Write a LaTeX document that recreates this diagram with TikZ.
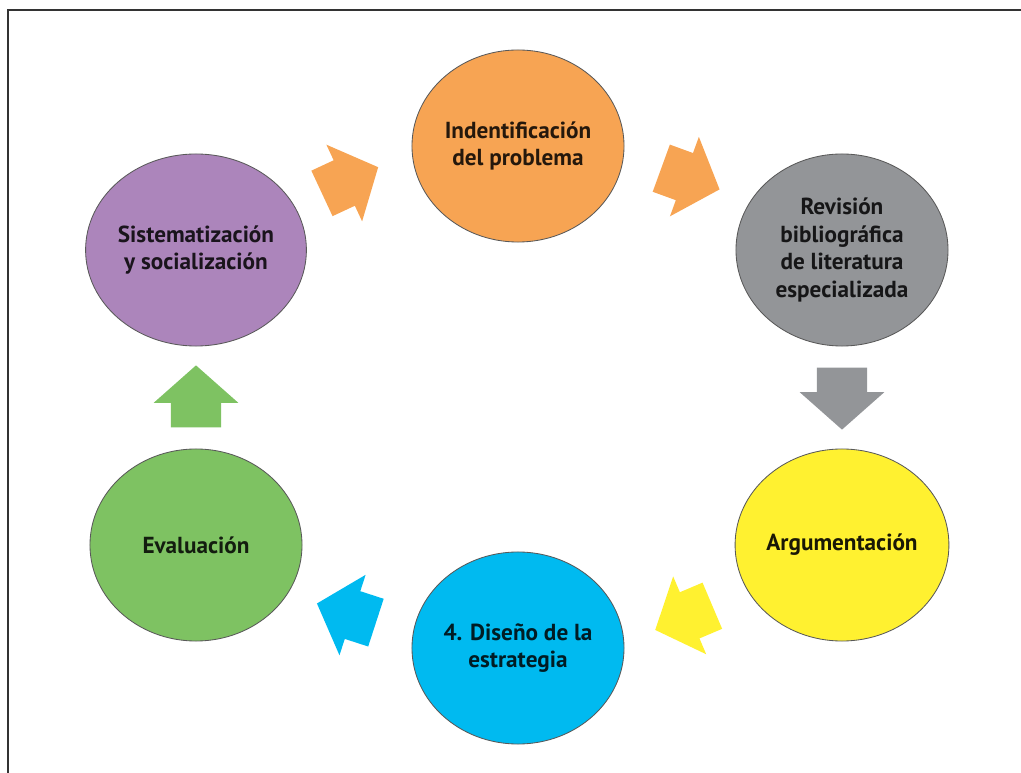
\documentclass[tikz,border=0pt]{standalone}
\usepackage{fontspec}
\setmainfont{PT Sans}
\usetikzlibrary{positioning, calc, shapes.geometric, shapes.arrows}
\definecolor{naranja}{RGB}{247, 164, 83}
\definecolor{gris}{RGB}{147, 149, 152}
\definecolor{amarillo}{RGB}{255, 241, 48}
\definecolor{celeste}{RGB}{0, 186, 240}
\definecolor{verde}{RGB}{126, 194, 98}
\definecolor{lila}{RGB}{172, 133, 187}
\tikzset{
  etapa/.style={ellipse, draw=black!65, line width=0.6pt, minimum width=5.3cm,
                minimum height=4.8cm, inner sep=0pt, align=center,
                font=\bfseries\fontsize{16.5}{19.5}\selectfont},
  paso/.style={single arrow, draw=none, inner xsep=0pt, inner ysep=0.62cm,
               minimum height=1.55cm, single arrow head extend=0.43cm,
               single arrow tip angle=97},
}

\begin{document}
\begin{tikzpicture}[x=0.025cm, y=-0.025cm]
  \useasboundingbox (0,0) rectangle (1021,773);
  \begin{scope}
    \clip (0,0) rectangle (1021,773);
    \draw[black!80, line width=1.3pt] (8,10) rectangle (1040,790);
  \end{scope}

  \node[etapa, fill=naranja, text=naranja!15!black] (ind) at (518,146) {Indentificación\\del problema};
  \node[etapa, fill=gris, text=gris!15!black] (rev) at (842,250) {Revisión\\bibliográfica\\de literatura\\especializada};
  \node[etapa, fill=amarillo, text=amarillo!10!black] (arg) at (842,545) {Argumentación};
  \node[etapa, fill=celeste, text=celeste!15!black] (dis) at (518,648) {4. Diseño de la\\estrategia};
  \node[etapa, fill=verde, text=verde!15!black] (eva) at (196,545) {Evaluación};
  \node[etapa, fill=lila, text=lila!15!black] (sis) at (196,250) {Sistematización\\y socialización};

  \node[paso, fill=naranja, rotate=25] (f1) at ($(sis)!0.5!(ind)+(-17,-13)$) {};
  \node[paso, fill=naranja, rotate=-20] (f2) at ($(ind)!0.5!(rev)+(0,-23)$) {};
  \node[paso, fill=gris, rotate=-90] (f3) at ($(rev)!0.5!(arg)+(0,-10)$) {};
  \node[paso, fill=amarillo, rotate=203] (f4) at ($(arg)!0.5!(dis)+(14,17)$) {};
  \node[paso, fill=celeste, rotate=162] (f5) at ($(dis)!0.5!(eva)+(0,20)$) {};
  \node[paso, fill=verde, rotate=90] (f6) at ($(eva)!0.5!(sis)+(0,10)$) {};
\end{tikzpicture}
\end{document}
